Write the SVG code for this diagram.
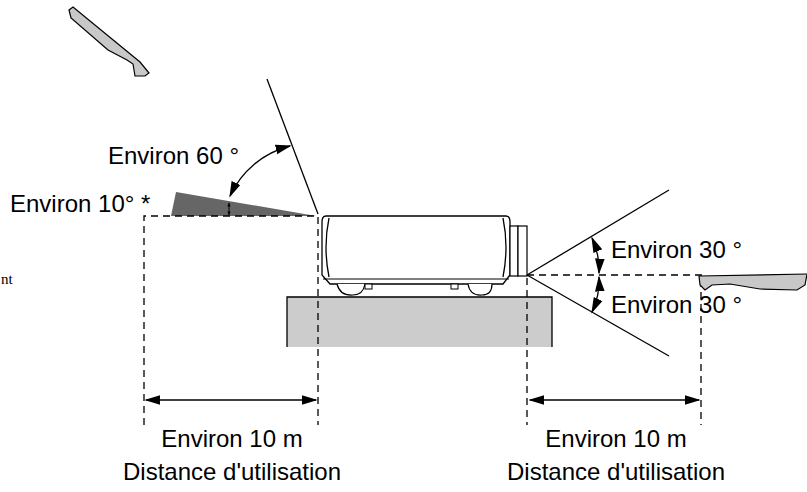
<svg xmlns="http://www.w3.org/2000/svg" width="807" height="492" viewBox="0 0 807 492">
<defs>
<marker id="as" viewBox="0 0 10 10" refX="9" refY="5" markerWidth="4" markerHeight="4" orient="auto-start-reverse" markerUnits="userSpaceOnUse"><path d="M0,1 L10,5 L0,9 z" fill="#000"/></marker>
<marker id="al" viewBox="0 0 10 10" refX="9" refY="5" markerWidth="16" markerHeight="16" orient="auto-start-reverse" markerUnits="userSpaceOnUse"><path d="M0,2 L10,5 L0,8 z" fill="#000"/></marker>
</defs>
<style>
.t{font-family:"Liberation Sans",Arial,sans-serif;font-size:24px;fill:#000}
.l{stroke:#000;stroke-width:1.3;fill:none}
.d{stroke:#000;stroke-width:1.3;fill:none;stroke-dasharray:7,5}
</style>
<rect width="807" height="492" fill="#fff"/>
<g id="remote-left"><path d="M69,10 L71,18 L108,50 L127,60 L133,64 L135,76 L145,76 L149,73 L140,62 L73,7 Z" fill="#c8c8c8" stroke="#000" stroke-width="1.2"/></g>
<g id="table"><rect x="287" y="297" width="265" height="50" fill="#ccc"/><path d="M287,347 V297 H552 V347" class="l"/></g>
<g id="projector">
<path d="M326,216 H506 Q510,216 510,222 V275 L503,284 H330 L322,275 V222 Q322,216 326,216 Z" fill="#fff" stroke="#000" stroke-width="1.3"/>
<path d="M329,218 Q323,247 329,277" class="l"/><path d="M503,218 Q509,247 503,277" class="l"/>
<line x1="323" y1="279" x2="509" y2="279" stroke="#000" stroke-width="1"/>
<rect x="510" y="226" width="8" height="50" fill="#fff" stroke="#000" stroke-width="1.2"/>
<rect x="518" y="226" width="9" height="50" fill="#fff" stroke="#000" stroke-width="1.2"/>
<path d="M337,284 Q340,296 353,295 Q363,295 365,284" fill="#fff" stroke="#000" stroke-width="1.2"/>
<path d="M468,284 Q470,296 482,295 Q492,295 492,284" fill="#fff" stroke="#000" stroke-width="1.2"/>
<rect x="365" y="284" width="7" height="5" fill="#fff" stroke="#000"/><rect x="451" y="284" width="7" height="5" fill="#fff" stroke="#000"/>
</g>
<g id="connectors">
<polygon points="176,192 171,216 316,216" fill="#666"/>
<line x1="318" y1="214" x2="267" y2="79" class="l"/>
<path d="M144,425 V216 H318 V425" class="d"/>
<line x1="229" y1="203" x2="229" y2="215" stroke="#000" stroke-width="1" marker-start="url(#as)" marker-end="url(#as)"/>
<path d="M290,146 A90,90 0 0 0 230,196" class="l" marker-start="url(#al)" marker-end="url(#al)"/>
<line x1="527" y1="275" x2="669" y2="190" class="l"/>
<line x1="527" y1="275" x2="669" y2="356" class="l"/>
<line x1="527" y1="275" x2="707" y2="275" class="d"/>
<line x1="527" y1="278" x2="527" y2="425" class="d"/>
<line x1="701" y1="280" x2="701" y2="425" class="d"/>
<path d="M592,238 Q600,256 599,273" class="l" marker-start="url(#al)" marker-end="url(#al)"/>
<path d="M599,277 Q600,295 592,312" class="l" marker-start="url(#al)" marker-end="url(#al)"/>
<line x1="146" y1="400" x2="316" y2="400" class="l" marker-start="url(#al)" marker-end="url(#al)"/>
<line x1="530" y1="400" x2="699" y2="400" class="l" marker-start="url(#al)" marker-end="url(#al)"/>
</g>
<g id="remote-right"><path d="M699,276 L807,274 L805,285 L797,290 L760,289 L730,284 L712,285 L705,290 L700,285 Z" fill="#c8c8c8" stroke="#000" stroke-width="1.2"/></g>
<g id="labels">
<text class="t" x="108" y="164">Environ 60 °</text>
<text class="t" x="10" y="212">Environ 10° *</text>
<text class="t" x="611" y="258">Environ 30 °</text>
<text class="t" x="611" y="313">Environ 30 °</text>
<text class="t" x="232" y="447" text-anchor="middle">Environ 10 m</text>
<text class="t" x="232" y="480" text-anchor="middle">Distance d'utilisation</text>
<text class="t" x="616" y="447" text-anchor="middle">Environ 10 m</text>
<text class="t" x="616" y="480" text-anchor="middle">Distance d'utilisation</text>
<text x="1" y="284" font-family="Liberation Serif,serif" font-size="15">nt</text>
</g>
</svg>
